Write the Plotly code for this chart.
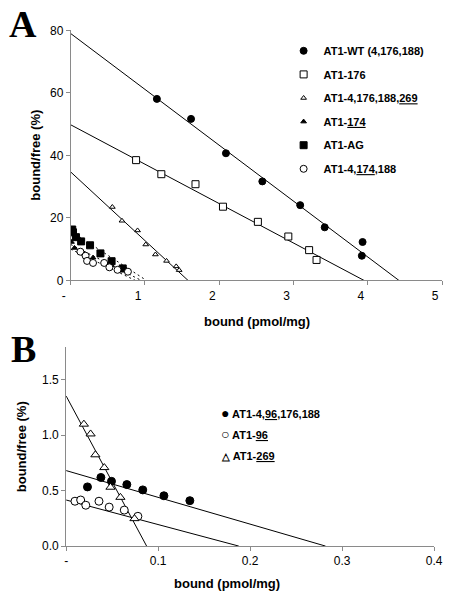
import plotly.graph_objects as go

W, H = 452, 598

def xp(px):
    return px / W

def yp(py):
    return 1 - py / H

# ---------------- Panel A data ----------------
wt_x = [1.16, 1.62, 2.09, 2.58, 3.09, 3.42, 3.93, 3.92]
wt_y = [58.1, 51.7, 40.7, 31.7, 24.1, 17.0, 12.3, 7.9]
wt_fit_x = [0, 4.42]
wt_fit_y = [79.0, 0]

m176_x = [0.88, 1.22, 1.68, 2.05, 2.52, 2.93, 3.21, 3.31]
m176_y = [38.5, 34.0, 30.8, 23.6, 18.75, 14.06, 9.7, 6.56]
m176_fit_x = [0, 3.95]
m176_fit_y = [49.8, 0]

m269_x = [0.56, 0.69, 0.90, 1.01, 1.14, 1.29, 1.42, 1.46]
m269_y = [23.5, 19.1, 16.0, 11.5, 8.3, 6.25, 4.5, 3.3]
m269_fit_x = [0, 1.58]
m269_fit_y = [34.7, 0]

m174_x = [0.01, 0.05, 0.18, 0.30, 0.55, 0.68]
m174_y = [12.3, 10.4, 8.5, 7.3, 4.8, 3.2]
m174_fit_x = [0, 0.95]
m174_fit_y = [11.5, 0]

ag_x = [0.02, 0.03, 0.07, 0.14, 0.26, 0.40, 0.55, 0.70]
ag_y = [16.3, 15.4, 13.85, 12.5, 11.25, 8.66, 6.16, 3.85]
ag_fit_x = [0, 1.02]
ag_fit_y = [15.8, 0]

m4174_x = [0.13, 0.20, 0.22, 0.30, 0.45, 0.52, 0.63, 0.77]
m4174_y = [9.2, 7.9, 6.25, 5.6, 5.6, 4.2, 3.4, 2.8]
m4174_fit_x = [0, 0.87]
m4174_fit_y = [10.0, 0]

a_xticks = [0, 1, 2, 3, 4, 5]
a_xlabels = ["-", "1", "2", "3", "4", "5"]
a_yticks = [0, 20, 40, 60, 80]

# ---------------- Panel B data ----------------
b96c_x = [0.0232, 0.0378, 0.0493, 0.066, 0.0833, 0.1063, 0.1345]
b96c_y = [0.533, 0.618, 0.583, 0.554, 0.506, 0.453, 0.409]
b96c_fit_x = [0, 0.282]
b96c_fit_y = [0.68, 0]

b96_x = [0.0096, 0.0158, 0.0214, 0.0357, 0.0468, 0.0632, 0.078]
b96_y = [0.404, 0.415, 0.368, 0.404, 0.351, 0.324, 0.268]
b96_fit_x = [0, 0.1877]
b96_fit_y = [0.415, 0]

b269_x = [0.0193, 0.0266, 0.0318, 0.0415, 0.0482, 0.059, 0.0743]
b269_y = [1.098, 1.01, 0.822, 0.707, 0.530, 0.439, 0.247]
b269_fit_x = [0, 0.0875]
b269_fit_y = [1.352, 0]

b_xticks = [0, 0.1, 0.2, 0.3, 0.4]
b_xlabels = ["-", "0.1", "0.2", "0.3", "0.4"]
b_yticks = [0, 0.5, 1.0, 1.5]
b_ylabels = ["0.0", "0.5", "1.0", "1.5"]

FONT = "Liberation Sans, Arial, sans-serif"
AXC = "#8a8a8a"

fig = go.Figure()

def pts(x, y, name, symbol, size, fill, xa, ya, legend, group, show=True):
    fig.add_trace(go.Scatter(
        x=x, y=y, mode="markers", name=name, xaxis=xa, yaxis=ya,
        legend=legend, legendgroup=group, showlegend=show,
        marker=dict(symbol=symbol, size=size,
                    color="black" if fill else "white",
                    line=dict(color="black", width=1))))

def line(x, y, xa, ya, dash="solid"):
    fig.add_trace(go.Scatter(
        x=x, y=y, mode="lines", xaxis=xa, yaxis=ya, showlegend=False,
        hoverinfo="skip", line=dict(color="black", width=1, dash=dash)))

# Panel A lines
line(wt_fit_x, wt_fit_y, "x", "y")
line(m176_fit_x, m176_fit_y, "x", "y")
line(m269_fit_x, m269_fit_y, "x", "y")
line(ag_fit_x, ag_fit_y, "x", "y", "2px,3px")
line(m174_fit_x, m174_fit_y, "x", "y", "2px,3px")
line(m4174_fit_x, m4174_fit_y, "x", "y", "2px,3px")

pts(wt_x, wt_y, "AT1-WT (4,176,188)", "circle", 7, True, "x", "y", "legend", "g1")
pts(m176_x, m176_y, "AT1-176", "square", 7, False, "x", "y", "legend", "g2")
pts(m269_x, m269_y, "AT1-4,176,188,<u>269</u>", "triangle-up", 5, False, "x", "y", "legend", "g3")
pts(m174_x, m174_y, "AT1-<u>174</u>", "triangle-up", 5, True, "x", "y", "legend", "g4")
pts(ag_x, ag_y, "AT1-AG", "square", 7, True, "x", "y", "legend", "g5")
pts(m4174_x, m4174_y, "AT1-4,<u>174</u>,188", "circle", 7, False, "x", "y", "legend", "g6")

# Panel B
line(b96c_fit_x, b96c_fit_y, "x2", "y2")
line(b96_fit_x, b96_fit_y, "x2", "y2")
line(b269_fit_x, b269_fit_y, "x2", "y2")
pts(b96c_x, b96c_y, "AT1-4,<u>96</u>,176,188", "circle", 8, True, "x2", "y2", "legend2", "h1", False)
pts(b96_x, b96_y, "AT1-<u>96</u>", "circle", 8, False, "x2", "y2", "legend2", "h2", False)
pts(b269_x, b269_y, "AT1-<u>269</u>", "triangle-up", 8, False, "x2", "y2", "legend2", "h3", False)

def ax(domain, rng, tickvals, ticktext, anchor, shift=0):
    return dict(domain=domain, range=rng, anchor=anchor, tickmode="array",
                tickvals=tickvals, ticktext=ticktext, showgrid=False,
                zeroline=False, showline=True, linecolor=AXC, linewidth=1,
                ticks="outside", ticklen=4, tickcolor=AXC, tickwidth=1,
                tickfont=dict(family=FONT, size=12, color="black"),
                ticklabelshift=shift, fixedrange=True)

fig.update_layout(
    width=W, height=H, margin=dict(l=0, r=0, t=0, b=0),
    paper_bgcolor="white", plot_bgcolor="white",
    xaxis=ax([xp(64.3), xp(451)], [0, 5], a_xticks, a_xlabels, "y", -7),
    yaxis=ax([yp(280), yp(24)], [0, 80], a_yticks, [str(v) for v in a_yticks], "x"),
    xaxis2=ax([xp(59.5), xp(442.7)], [0, 0.4], b_xticks, b_xlabels, "y2"),
    yaxis2=ax([yp(552), yp(348.5)], [0, 1.79], b_yticks, b_ylabels, "x2"),
    legend=dict(x=xp(286), y=yp(30), xanchor="left", yanchor="top",
                bgcolor="rgba(0,0,0,0)", traceorder="grouped", tracegroupgap=4.6,
                font=dict(family=FONT, size=11, color="black", weight="bold")),
    showlegend=True,
)

ann = []
def text(x, y, t, size, angle=0, family=FONT, xanchor="center"):
    ann.append(dict(x=xp(x), y=yp(y), xref="paper", yref="paper", text=t,
                    showarrow=False, textangle=angle, xanchor=xanchor, yanchor="middle",
                    font=dict(family=family, size=size, color="black")))

text(258, 321.7, "<b>bound (pmol/mg)</b>", 13)
text(27.3, 152, "<b>bound/free (%)</b>", 13, -90)
text(227.5, 590.7, "<b>bound (pmol/mg)</b>", 13)
text(13.3, 450, "<b>bound/free (%)</b>", 13, -90)
text(15, 17, "<b>A</b>", 38, family="Liberation Serif, Times New Roman, serif")
text(15, 350, "<b>B</b>", 38, family="Liberation Serif, Times New Roman, serif")

# Panel B legend (text box with symbol glyphs)
text(219, 415.3, "<b><span style='font-size:14px'>●</span> AT1-4,<u>96</u>,176,188</b>", 11, xanchor="left")
text(219, 437.3, "<b><span style='font-size:14px'>○</span> AT1-<u>96</u></b>", 11, xanchor="left")
text(219, 460, "<b><span style='font-size:10px'>△</span> AT1-<u>269</u></b>", 11, xanchor="left")

fig.update_layout(annotations=ann)
# remove the browser's default 8px page margin so the 452x598 figure fills the window exactly
fig.write_html("out.html", config={"displayModeBar": False},
               post_script="document.body.style.margin='0';document.body.style.overflow='hidden';")
